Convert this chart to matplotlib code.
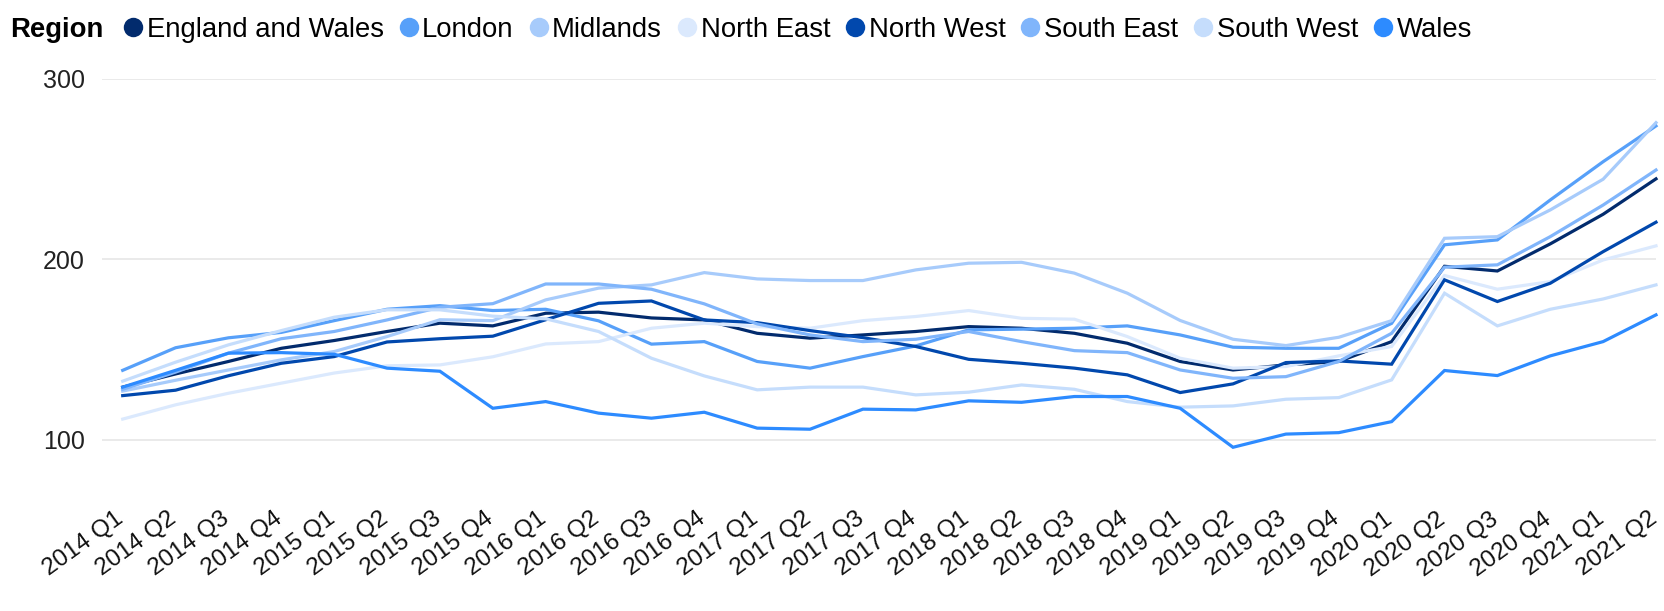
import matplotlib
matplotlib.use('Agg')
import matplotlib.pyplot as plt
import matplotlib.transforms as mtransforms
from matplotlib.lines import Line2D

plt.rcParams['font.family'] = ['Liberation Sans', 'DejaVu Sans']

# quarters 2014 Q1 .. 2021 Q2
quarters = [f'{y} Q{q}' for y in range(2014, 2022) for q in range(1, 5)][:30]

regions = ['England and Wales', 'London', 'Midlands', 'North East',
           'North West', 'South East', 'South West', 'Wales']
colors = ['#022b6d', '#57a0f9', '#a7cbfb', '#dbe9fd',
          '#0148ad', '#80b5fb', '#c5ddfc', '#2d8bff']

england_wales = [129.2, 136.5, 143.4, 150.7, 155, 160, 164.6, 163.1, 170.1, 170.7,
                 167.5, 166.4, 159, 156.3, 158.1, 160, 162.7, 161.8, 159, 153.5,
                 143.4, 138.7, 141.5, 143.4, 154.4, 196.1, 193.5, 208.5, 224.9, 244.5]
london = [138.5, 151, 156.5, 159.5, 166, 172.3, 174.3, 171.6, 172.3, 165.9,
          153, 154.4, 143.4, 139.7, 146.1, 152, 160.9, 161.3, 161.8, 163.1,
          158.1, 151.3, 150.7, 150.7, 164.5, 208, 210.7, 232.8, 254, 273.8]
midlands = [127, 133, 138.7, 144.3, 148.9, 157.2, 166.5, 166, 177.5, 184,
            185.8, 192.6, 189.1, 188.2, 188.2, 194.1, 197.8, 198.3, 192.3, 181.2,
            166.1, 155.7, 152.2, 156.8, 166, 211.6, 212.5, 227.3, 244.3, 275.6]
north_east = [111.5, 119.4, 125.8, 131.4, 137, 141, 141.5, 146, 153.1, 154.4,
              161.8, 164.6, 162.7, 161.8, 166, 168.3, 171.6, 167.3, 166.8, 157.2,
              145.2, 139.7, 140.6, 146.5, 151.7, 191, 183.4, 187.6, 199.6, 207.4]
north_west = [124.5, 127.5, 135.5, 142.4, 146.1, 154.2, 156, 157.4, 166.5, 175.6,
              176.9, 166.4, 164.9, 160.5, 156.6, 151.7, 144.6, 142.4, 139.7, 136,
              126.2, 131, 142.8, 143.7, 141.9, 188.6, 176.6, 186.7, 204.2, 220.5]
south_east = [128, 137.5, 148, 156, 160, 166.4, 173.4, 175.4, 186.3, 186.3,
              183.4, 175.3, 164.2, 158.1, 154.4, 155.7, 160, 154.4, 149.4, 148.3,
              138.7, 134.1, 135, 143.4, 159, 195.6, 196.9, 212.5, 230, 249.4]
south_west = [132.5, 143, 152.6, 160.5, 167.9, 172, 172, 168.5, 167, 160,
              145.2, 135.4, 127.7, 129.2, 129.2, 124.9, 126.4, 130.4, 128, 121.2,
              118.1, 118.8, 122.5, 123.4, 133.2, 181.2, 163.1, 172.3, 178, 185.8]
wales = [129.2, 138.5, 148, 148.3, 147.4, 139.7, 138, 117.5, 121.2, 114.8,
         112, 115.3, 106.5, 105.9, 117, 116.6, 121.6, 120.8, 124, 124,
         117.5, 95.9, 103.2, 104, 110.1, 138.4, 135.6, 146.5, 154.4, 169.2]

series = [england_wales, london, midlands, north_east,
          north_west, south_east, south_west, wales]

W, H = 1665, 611
step = (1656 - 122.7) / 29
left = 122.7 - 0.4 * step
fig = plt.figure(figsize=(W / 100, H / 100), dpi=100)
ax = fig.add_axes([left / W, 1 - 476 / H, (1656 - left) / W, (476 - 78.6) / H])

x = list(range(len(quarters)))
for name, vals, c in zip(regions, series, colors):
    ax.plot(x, vals, color=c, lw=2.3, solid_joinstyle='miter', clip_on=False, zorder=3)

ax.set_xlim(-0.4, len(quarters) - 1)
ax.set_ylim(80, 300)
ax.set_yticks([100, 200, 300])
ax.yaxis.grid(True, color='#e6e6e6', lw=1.2)
ax.set_axisbelow(True)
for s in ax.spines.values():
    s.set_visible(False)
ax.tick_params(axis='y', length=0, pad=12, labelsize=18, labelcolor='#222222')
ax.set_xticks(x)
ax.set_xticklabels(quarters, rotation=36, ha='right', va='top',
                   rotation_mode='anchor', fontsize=17.5, color='#111111')
ax.tick_params(axis='x', length=0, pad=23)
shift = mtransforms.ScaledTranslation(-8 / 100, 0, fig.dpi_scale_trans)
for lab in ax.get_xticklabels():
    lab.set_transform(lab.get_transform() + shift)

# legend row
fig.text(10.6 / W, 1 - 30 / H, 'Region', fontsize=19.8, weight='bold', va='center', ha='left')
handles = [Line2D([], [], ls='none', marker='o', markersize=14, color=c, markeredgewidth=0)
           for c in colors]
fig.legend(handles, regions, loc='center left', bbox_to_anchor=(122 / W, 1 - 30 / H),
           ncol=8, frameon=False, fontsize=19.8, handlelength=0.8, handletextpad=0.1,
           columnspacing=0.5, borderpad=0, borderaxespad=0)

fig.savefig('out.png', dpi=100)
